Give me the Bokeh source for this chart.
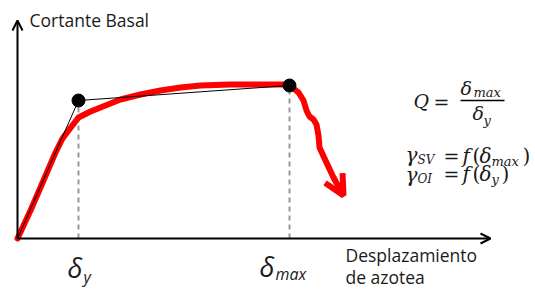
from bokeh.plotting import figure
from bokeh.models import Range1d, Arrow, OpenHead, Label
from bokeh.embed import file_html
from bokeh.resources import INLINE

# Pushover curve (displacement, base shear) in schematic units
curve_x = [0, 13, 26, 38, 45, 51, 61, 73, 88, 103, 123, 143, 163, 183, 213, 243, 272,
           276, 281, 286, 289, 292, 296, 299, 301, 302, 308, 316]
curve_y = [0, 28, 58, 86, 100, 108, 121, 127, 133, 139, 144, 148, 151, 153, 154, 154, 154,
           150, 146, 138, 128, 122, 119, 114, 103, 91, 78, 61]
arrow_end = (326, 43)

# Bilinear idealization
bil_x = [0, 61, 272]
bil_y = [0, 138, 153]

# Key points: yield and max displacement
key_x = [61, 272]
key_y = [138, 153]

p = figure(width=535, height=289, output_backend="svg", toolbar_location=None,
           x_range=Range1d(-17, 518), y_range=Range1d(-51, 238), min_border=0)
p.xaxis.visible = False
p.yaxis.visible = False
p.grid.visible = False
p.outline_line_color = None
p.background_fill_color = "white"
p.border_fill_color = "white"

# axes with arrows
p.add_layout(Arrow(end=OpenHead(size=10, line_width=2, line_color="black"),
                   x_start=0, y_start=0, x_end=0, y_end=218, line_width=2, line_color="black"))
p.add_layout(Arrow(end=OpenHead(size=10, line_width=2, line_color="black"),
                   x_start=0, y_start=0, x_end=473, y_end=0, line_width=2, line_color="black"))

# dashed verticals
for kx, ky in zip(key_x, key_y):
    p.line([kx, kx], [0, ky - 4], line_color="#999999", line_width=2, line_dash="5 4")

# red curve
p.line(curve_x, curve_y, line_color="#ff0000", line_width=6, line_join="round", line_cap="round")
p.add_layout(Arrow(end=OpenHead(size=20, line_width=6, line_color="#ff0000"),
                   x_start=curve_x[-1], y_start=curve_y[-1], x_end=arrow_end[0], y_end=arrow_end[1],
                   line_width=6, line_color="#ff0000"))

# bilinear
p.line(bil_x, bil_y, line_color="black", line_width=1)
p.scatter(key_x, key_y, size=13, color="black")

sans = "Open Sans"
serif = "DejaVu Serif"

def lab(x, y, t, size, font=sans, style="normal", align="left", color="#1a1a1a"):
    p.add_layout(Label(x=x, y=y, text=t, text_font=font, text_font_size=f"{size}px",
                       text_font_style=style, text_align=align, text_baseline="middle",
                       text_color=color))

lab(12, 219, "Cortante Basal", 17.5)
lab(328, -16, "Desplazamiento", 17.5)
lab(328, -38, "de azotea", 17.5)

# delta labels on x axis
lab(50, -29, "δ", 27, style="italic")
lab(66, -38, "y", 16, style="italic")
lab(242, -28, "δ", 27, style="italic")
lab(258, -35, "max", 16, style="italic")

# formulas
lab(396, 138, "Q", 19, font=serif, style="italic")
lab(416, 137, "=", 19, font=serif)
p.line([443, 487], [138, 138], line_color="black", line_width=1.5)
lab(443, 151, "δ", 19, font=serif, style="italic")
lab(456, 146, "max", 13, font=serif, style="italic")
lab(455, 126, "δ", 19, font=serif, style="italic")
lab(466, 118, "y", 13, font=serif, style="italic")

lab(388, 84, "γ", 20, font=serif, style="italic")
lab(400, 79, "SV", 12, font=serif, style="italic")
lab(426, 83, "=", 19, font=serif)
lab(445, 83, "f", 20, font=serif, style="italic")
lab(455, 83, "(", 20, font=serif)
lab(462, 83, "δ", 20, font=serif, style="italic")
lab(474, 77, "max", 13, font=serif, style="italic")
lab(505, 83, ")", 20, font=serif)

lab(388, 64, "γ", 20, font=serif, style="italic")
lab(400, 60, "OI", 12, font=serif, style="italic")
lab(426, 65, "=", 19, font=serif)
lab(445, 65, "f", 20, font=serif, style="italic")
lab(455, 65, "(", 20, font=serif)
lab(462, 65, "δ", 20, font=serif, style="italic")
lab(474, 59, "y", 13, font=serif, style="italic")
lab(484, 65, ")", 20, font=serif)

open("out.html", "w").write(file_html(p, INLINE))
